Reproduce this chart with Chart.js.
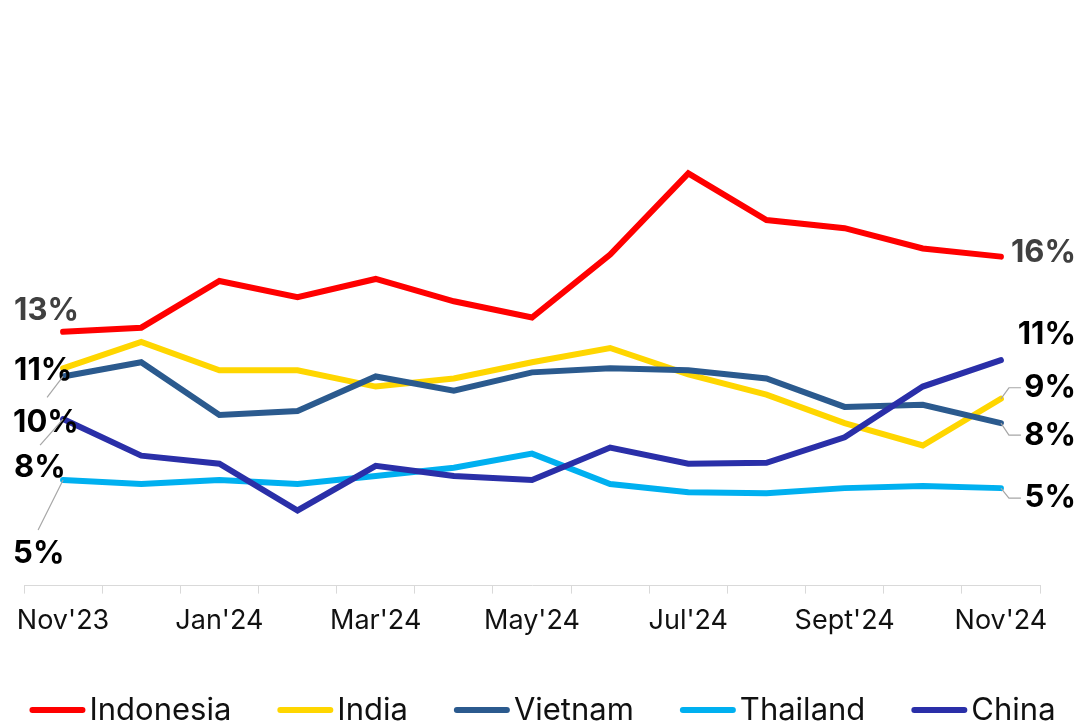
<!DOCTYPE html>
<html>
<head>
<meta charset="utf-8">
<script src="https://cdn.jsdelivr.net/npm/chart.js@4"></script>
<style>
  html, body { margin: 0; padding: 0; background: #fff; }
  #wrap { width: 1081px; height: 726px; }
</style>
</head>
<body>
<div id="wrap"><canvas id="shareChart" width="1081" height="726"></canvas></div>
<script>
const months = ["Nov'23", "Dec'23", "Jan'24", "Feb'24", "Mar'24", "Apr'24", "May'24",
  "Jun'24", "Jul'24", "Aug'24", "Sept'24", "Oct'24", "Nov'24"];

const indonesia = [12.5, 12.7, 15.0, 14.2, 15.1, 14.0, 13.2, 16.3, 20.3, 18.0, 17.6, 16.6, 16.2];
const india     = [10.7, 12.0, 10.6, 10.6, 9.8, 10.2, 11.0, 11.7, 10.4, 9.4, 8.0, 6.9, 9.2];
const vietnam   = [10.3, 11.0, 8.4, 8.6, 10.3, 9.6, 10.5, 10.7, 10.6, 10.2, 8.8, 8.9, 8.0];
const thailand  = [5.2, 5.0, 5.2, 5.0, 5.4, 5.8, 6.5, 5.0, 4.6, 4.55, 4.8, 4.9, 4.8];
const china     = [8.2, 6.4, 6.0, 3.7, 5.9, 5.4, 5.2, 6.8, 6.0, 6.05, 7.3, 9.8, 11.1];

const startLabels = ['13%', '11%', '10%', '5%', '8%'];
const endLabels   = ['16%', '9%', '8%', '5%', '11%'];

const FONT = 'Inter';

// label placement relative to the first / last point (styling only)
const labelStyle = [
  { start: { dx: -49, dy: -21 }, end: { dx: 75, dy: -4 }, color: '#404040' },
  { start: { dx: -49, dy: 2 }, end: { dx: 75, dy: -11, leader: [[8, -11], [20, -11]] }, color: '#000' },
  { start: { dx: -50, dy: 46, leader: [[-16, 21]] }, end: { dx: 75, dy: 13, leader: [[8, 12], [20, 12]] }, color: '#000' },
  { start: { dx: -50, dy: 74, leader: [[-25, 50]] }, end: { dx: 75, dy: 10, leader: [[8, 10], [20, 10]] }, color: '#000' },
  { start: { dx: -49, dy: 49, leader: [[-23, 26]] }, end: { dx: 75, dy: -26 }, color: '#000' }
];

const endLabelPlugin = {
  id: 'endLabels',
  afterDatasetsDraw(chart) {
    const ctx = chart.ctx;
    ctx.save();
    ctx.font = `700 31px ${FONT}`;
    ctx.textBaseline = 'middle';
    chart.data.datasets.forEach((ds, i) => {
      const meta = chart.getDatasetMeta(i);
      const st = labelStyle[i];
      const first = meta.data[0];
      const last = meta.data[meta.data.length - 1];
      [[first, st.start, startLabels[i], 'left'], [last, st.end, endLabels[i], 'right']].forEach(([pt, o, txt, align]) => {
        if (o.leader) {
          ctx.strokeStyle = '#a6a6a6';
          ctx.lineWidth = 1.2;
          ctx.beginPath();
          ctx.moveTo(pt.x, pt.y);
          o.leader.forEach(p => ctx.lineTo(pt.x + p[0], pt.y + p[1]));
          ctx.stroke();
        }
        ctx.fillStyle = st.color;
        ctx.textAlign = align;
        ctx.fillText(txt, pt.x + o.dx, pt.y + o.dy);
      });
    });
    ctx.restore();
  }
};

// legend drawn under the axis: rounded line marker + name
const legendPlugin = {
  id: 'lineLegend',
  afterDraw(chart) {
    const ctx = chart.ctx;
    const markW = 56, markH = 6, gap = 4, spacing = 46, cy = 710;
    ctx.save();
    ctx.font = `400 31px ${FONT}`;
    ctx.textBaseline = 'middle';
    ctx.textAlign = 'left';
    const items = chart.data.datasets.map(ds => ({ ds, w: markW + gap + ctx.measureText(ds.label).width }));
    const total = items.reduce((s, it) => s + it.w, 0) + spacing * (items.length - 1);
    let x = (chart.width - total) / 2 + 2;
    items.forEach(it => {
      ctx.strokeStyle = it.ds.borderColor;
      ctx.lineWidth = markH;
      ctx.lineCap = 'round';
      ctx.beginPath();
      ctx.moveTo(x + markH / 2, cy);
      ctx.lineTo(x + markW - markH / 2, cy);
      ctx.stroke();
      ctx.fillStyle = '#111';
      ctx.fillText(it.ds.label, x + markW + gap, cy + 1);
      x += it.w + spacing;
    });
    ctx.restore();
  }
};

const series = [
  { label: 'Indonesia', data: indonesia, color: '#ff0000', order: 5 },
  { label: 'India', data: india, color: '#ffd600', order: 4 },
  { label: 'Vietnam', data: vietnam, color: '#2b5a8e', order: 3 },
  { label: 'Thailand', data: thailand, color: '#00b0f0', order: 2 },
  { label: 'China', data: china, color: '#2a2fa8', order: 1 }
];

new Chart(document.getElementById('shareChart'), {
  type: 'line',
  data: {
    labels: months,
    datasets: series.map(s => ({
      label: s.label,
      data: s.data,
      borderColor: s.color,
      backgroundColor: s.color,
      borderWidth: 6,
      borderCapStyle: 'round',
      borderJoinStyle: 'miter',
      pointRadius: 0,
      tension: 0,
      order: s.order
    }))
  },
  options: {
    responsive: false,
    animation: false,
    layout: { padding: { left: 24, right: 41, top: 17, bottom: 78 } },
    plugins: {
      legend: { display: false },
      tooltip: { enabled: false }
    },
    scales: {
      x: {
        offset: true,
        grid: { offset: true, drawOnChartArea: false, tickLength: 8, color: '#d9d9d9', lineWidth: 1 },
        border: { color: '#d9d9d9', width: 1 },
        ticks: {
          autoSkip: false,
          maxRotation: 0,
          padding: 11,
          color: '#111',
          font: { family: FONT, size: 27 },
          callback: (v, i) => (i % 2 === 0 ? months[i] : '')
        }
      },
      y: { display: false, min: 0, max: 28 }
    }
  },
  plugins: [endLabelPlugin, legendPlugin]
});
</script>
</body>
</html>
